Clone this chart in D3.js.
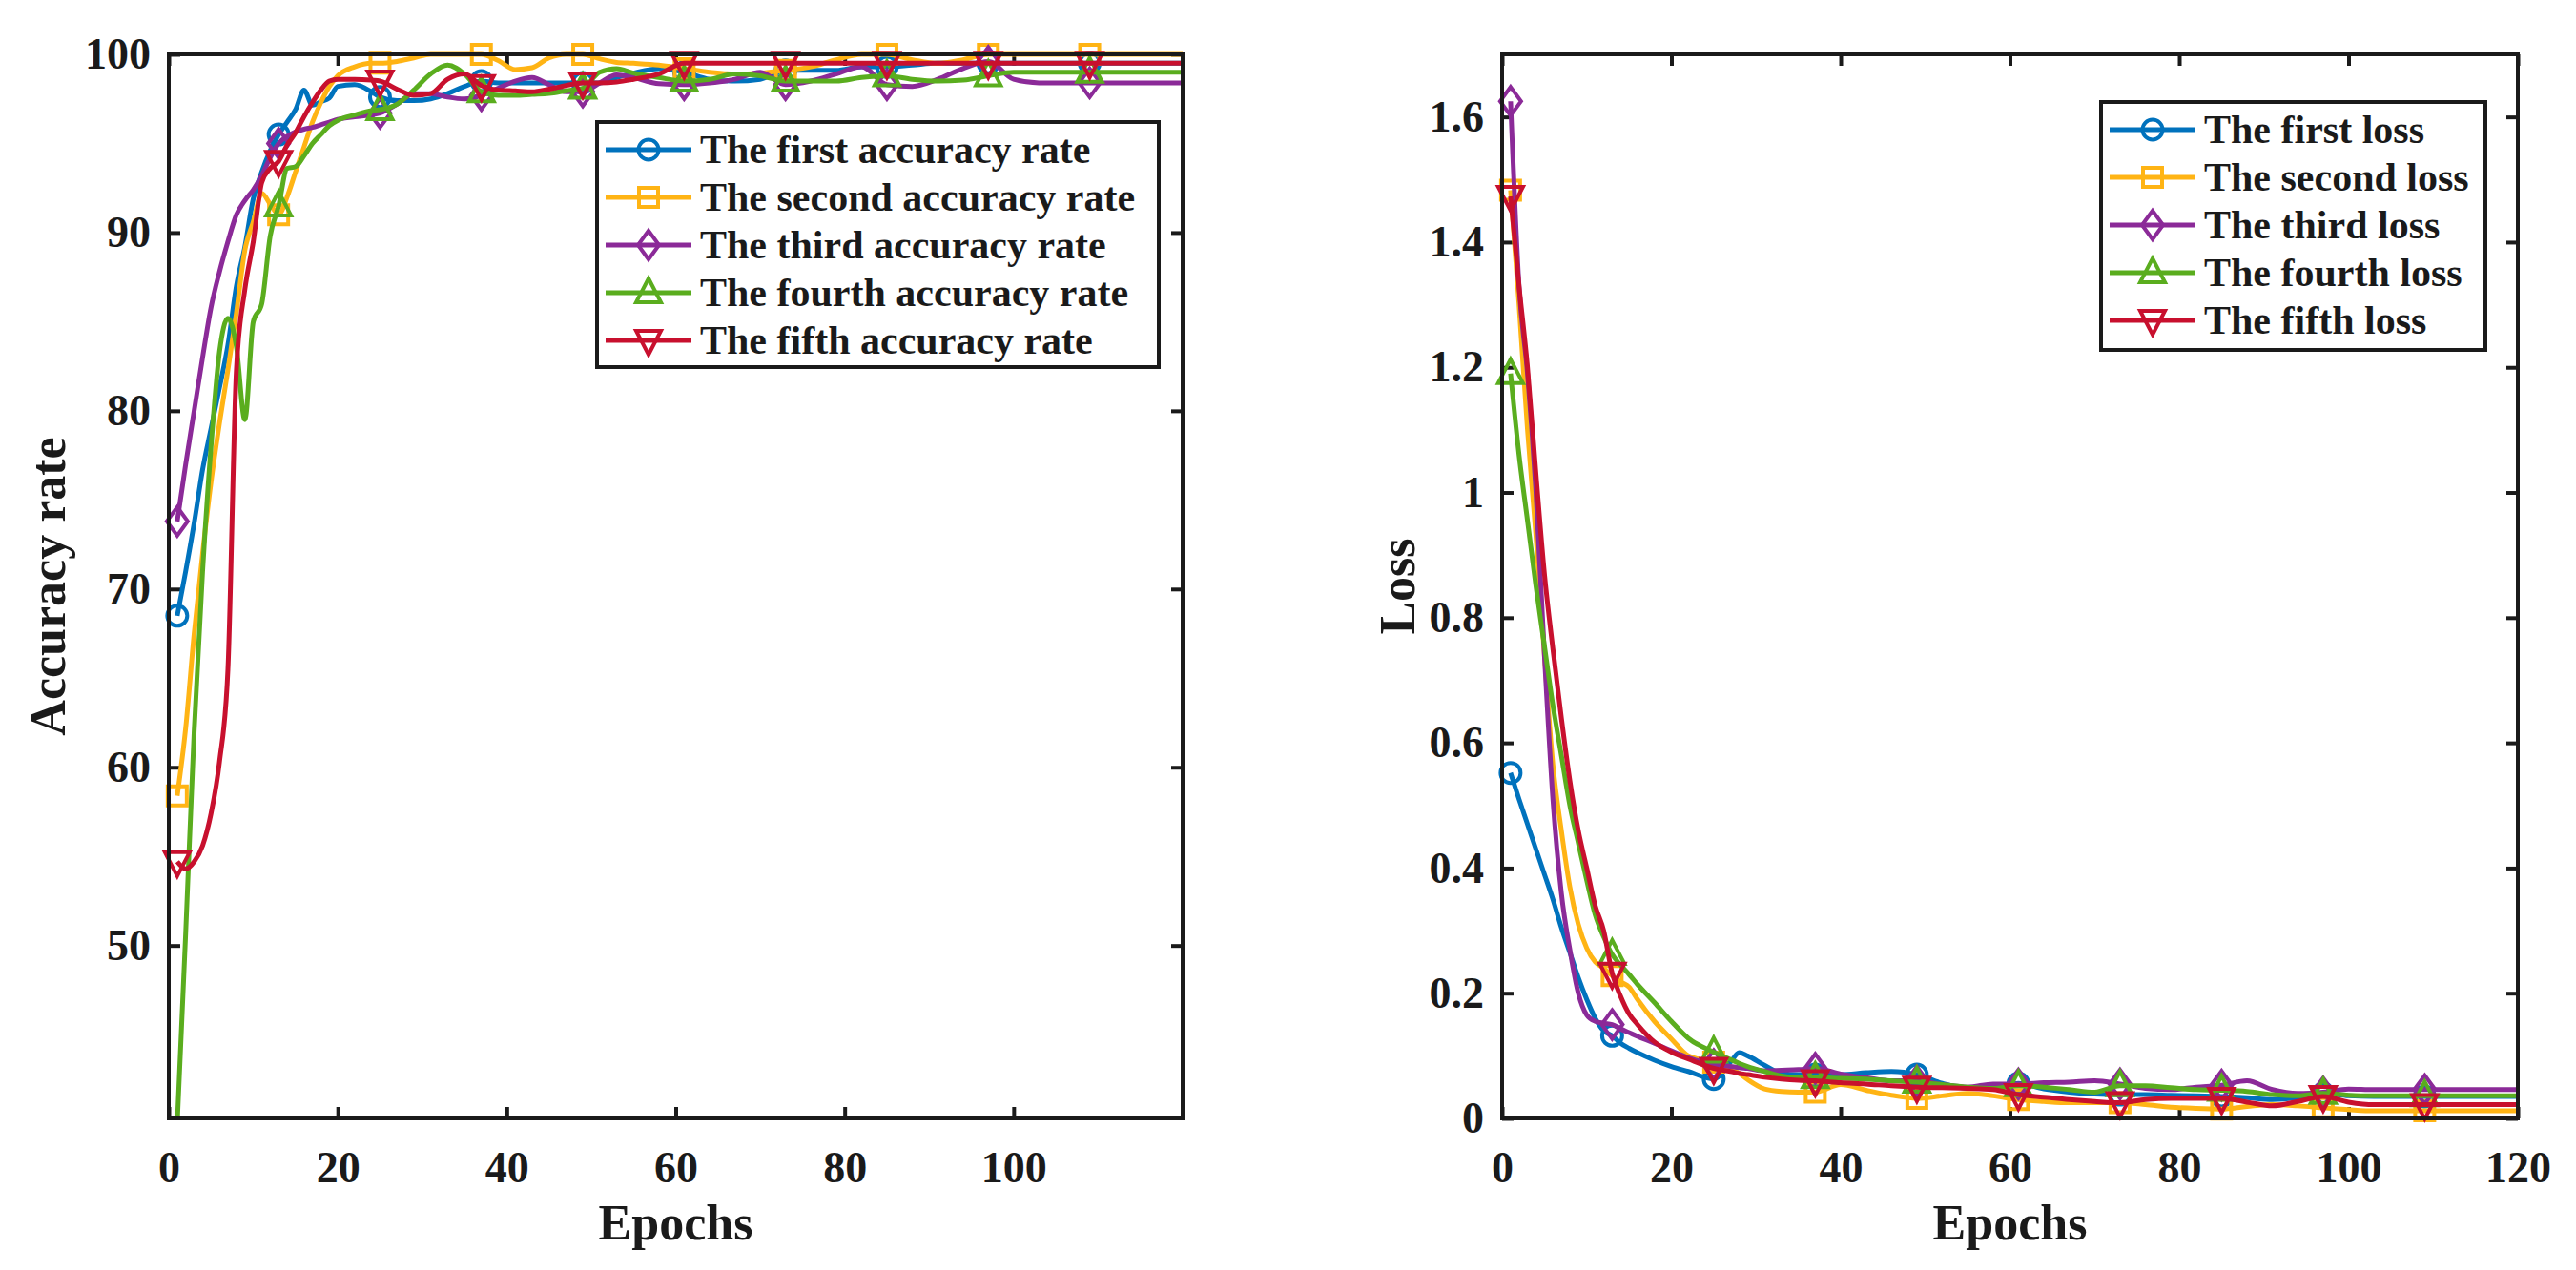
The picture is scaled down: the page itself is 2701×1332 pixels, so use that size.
<!DOCTYPE html>
<html>
<head>
<meta charset="utf-8">
<title>Accuracy and loss</title>
<script src="https://cdn.jsdelivr.net/npm/d3@7"></script>
<style>
  body { margin: 0; background: #fff; }
  svg text { font-family: "Liberation Serif", "Times New Roman", serif; font-weight: bold; fill: #1a1a1a; }
</style>
</head>
<body>
<svg id="chart" width="2701" height="1332"></svg>
<script>
// ---- data ----
var accEpochs = [1,2,3,4,5,6,7,8,9,10,11,12,13,14,15,16,17,18,19,20,
  22,24,25,27,29,31,33,35,37,39,41,43,45,47,49,51,53,55,58,61,
  64,67,70,73,76,79,82,85,88,91,94,97,100,103,106,109,112,115,118,120];

var acc1 = [68.5,71.0,73.7,76.7,79.0,81.3,83.7,87.0,89.2,91.9,
  93.4,94.6,95.5,96.2,96.9,98.0,97.15,97.35,97.55,98.2,
  98.3,97.9,97.6,97.4,97.4,97.5,97.8,98.2,98.5,98.4,
  98.4,98.4,98.4,98.4,98.4,98.4,98.7,98.95,99.2,99.0,
  98.6,98.5,98.6,99.1,99.1,99.1,99.3,99.3,99.4,99.5,
  99.5,99.5,99.5,99.5,99.5,99.5,99.5,99.5,99.5,99.5];
var acc2 = [58.4,62.2,67.5,72.0,76.0,79.3,82.3,85.5,89.0,90.6,
  92.2,91.6,91.0,92.0,93.4,94.8,96.2,97.3,98.2,98.8,
  99.3,99.5,99.5,99.6,99.8,100,100,100,100,99.65,
  99.15,99.25,99.8,100,100,99.75,99.55,99.5,99.4,99.2,
  99.0,98.9,98.95,99.1,99.3,99.7,100,100,99.7,99.5,
  99.7,100,100,100,100,100,100,100,100,100];
var acc3 = [73.8,77.0,80.0,83.0,85.8,87.8,89.5,91.0,91.8,92.4,
  93.2,94.2,95.0,95.4,95.65,95.8,95.9,96.05,96.2,96.35,
  96.5,96.6,96.7,97.2,97.8,97.8,97.6,97.5,97.7,98.1,
  98.5,98.7,98.3,97.9,97.9,98.4,98.85,98.7,98.35,98.3,
  98.4,98.6,99.0,98.3,98.5,98.9,99.3,98.3,98.2,98.6,
  99.2,99.6,98.6,98.4,98.4,98.4,98.4,98.4,98.4,98.4];
var acc4 = [40.0,50.7,62.0,71.0,78.0,83.3,85.2,83.6,79.5,85.0,
  86.0,89.8,91.5,93.6,93.7,94.3,95.0,95.5,96.0,96.3,
  96.6,96.85,96.9,97.2,98.0,98.9,99.4,98.9,97.9,97.7,
  97.7,97.75,97.8,97.95,98.1,99.0,99.2,98.95,98.7,98.5,
  98.6,98.9,98.8,98.5,98.5,98.5,98.7,98.8,98.6,98.5,
  98.55,98.8,99.0,99.0,99.0,99.0,99.0,99.0,99.0,99.0];
var acc5 = [54.7,54.3,54.7,55.6,57.4,60.3,65.5,82.3,86.8,89.5,
  92.8,93.6,94.0,94.9,95.6,96.5,97.3,98.0,98.5,98.6,
  98.6,98.55,98.5,98.05,97.7,97.8,98.6,98.9,98.25,98.0,
  97.95,97.9,98.05,98.25,98.4,98.4,98.45,98.6,98.9,99.5,
  99.5,99.5,99.5,99.5,99.5,99.5,99.5,99.5,99.5,99.5,
  99.5,99.5,99.5,99.5,99.5,99.5,99.5,99.5,99.5,99.5];

var lossEpochs = [1,2,3,4,5,6,7,8,9,10,11,12,13,14,15,16,
  18,20,22,25,27,28,29,31,33,35,
  37,40,43,46,49,52,55,58,61,64,
  67,70,73,76,79,82,85,88,91,94,
  97,100,103,106,109,112,115,118,120];

var loss1 = [0.552,0.51,0.47,0.43,0.39,0.35,0.305,0.265,0.225,0.19,0.16,0.14,0.132,0.12,0.112,0.105,
  0.093,0.083,0.075,0.063,0.09,0.105,0.1,0.085,0.072,0.07,
  0.07,0.07,0.073,0.075,0.07,0.056,0.048,0.05,0.056,0.047,
  0.042,0.039,0.038,0.038,0.037,0.036,0.035,0.033,0.03,0.033,
  0.04,0.036,0.035,0.035,0.035,0.035,0.035,0.035,0.035];
var loss2 = [1.483,1.30,1.10,0.93,0.74,0.565,0.46,0.37,0.31,0.272,0.25,0.24,0.228,0.218,0.21,0.19,
  0.155,0.127,0.1,0.09,0.08,0.072,0.062,0.047,0.043,0.042,
  0.042,0.054,0.045,0.037,0.032,0.036,0.04,0.036,0.03,0.027,
  0.025,0.025,0.025,0.022,0.018,0.016,0.015,0.019,0.022,0.02,
  0.017,0.014,0.012,0.012,0.012,0.012,0.012,0.012,0.012];
var loss3 = [1.625,1.33,1.19,1.0,0.74,0.51,0.36,0.27,0.2,0.165,0.155,0.152,0.15,0.143,0.137,0.131,
  0.12,0.108,0.097,0.086,0.083,0.081,0.08,0.076,0.077,0.078,
  0.08,0.071,0.065,0.06,0.06,0.054,0.05,0.055,0.055,0.057,
  0.058,0.06,0.055,0.048,0.046,0.05,0.053,0.06,0.046,0.04,
  0.042,0.047,0.046,0.046,0.046,0.046,0.046,0.046,0.046];
var loss4 = [1.19,1.06,0.955,0.85,0.755,0.66,0.58,0.5,0.44,0.38,0.325,0.29,0.262,0.245,0.23,0.214,
  0.185,0.155,0.128,0.106,0.094,0.088,0.083,0.075,0.068,0.065,
  0.065,0.064,0.063,0.06,0.058,0.054,0.05,0.048,0.052,0.05,
  0.046,0.042,0.052,0.052,0.049,0.046,0.045,0.043,0.038,0.036,
  0.04,0.037,0.036,0.036,0.036,0.036,0.036,0.036,0.036];
var loss5 = [1.473,1.33,1.2,1.03,0.87,0.75,0.64,0.54,0.46,0.4,0.34,0.3,0.232,0.195,0.167,0.15,
  0.122,0.106,0.095,0.08,0.075,0.072,0.07,0.066,0.063,0.061,
  0.06,0.057,0.055,0.052,0.05,0.049,0.048,0.046,0.038,0.034,
  0.03,0.027,0.025,0.03,0.032,0.032,0.032,0.026,0.02,0.027,
  0.035,0.026,0.022,0.022,0.022,0.022,0.022,0.022,0.022];

var markerEpochs = [1,13,25,37,49,61,73,85,97,109];
var accNames = ['The first accuracy rate','The second accuracy rate','The third accuracy rate',
  'The fourth accuracy rate','The fifth accuracy rate'];
var lossNames = ['The first loss','The second loss','The third loss','The fourth loss','The fifth loss'];
var colors = ['#0072bd','#ffb414','#8b2a98','#5aad1e','#c8102e'];
var shapes = ['circle','square','diamond','up','down'];
var accTicksX = [0,20,40,60,80,100];
var accTicksY = [50,60,70,80,90,100];
var accRange = [40.3, 100];
var lossTicksX = [0,20,40,60,80,100,120];
var lossTicksY = [0,0.2,0.4,0.6,0.8,1,1.2,1.4,1.6];
var lossRange = [0, 1.7];

// ---- drawing ----
var svg = d3.select('#chart');
svg.append('rect').attr('width', 2701).attr('height', 1332).attr('fill', '#fff');

function markerPath(shape) {
  if (shape == 'circle') return d3.symbol(d3.symbolCircle, Math.PI * 10.5 * 10.5)();
  if (shape == 'square') return 'M-10,-10H10V10H-10Z';
  if (shape == 'diamond') return 'M0,-15L11,0L0,15L-11,0Z';
  if (shape == 'up') return 'M0,-15L13,10L-13,10Z';
  return 'M0,15L13,-10L-13,-10Z';
}

var clipId = 0;
function panel(opt) {
  var x = d3.scaleLinear().domain(opt.xDomain).range([opt.left, opt.right]);
  var y = d3.scaleLinear().domain(opt.yDomain).range([opt.bottom, opt.top]);
  var g = svg.append('g');

  var cid = 'clip' + (clipId++);
  g.append('clipPath').attr('id', cid).append('rect')
    .attr('x', opt.left).attr('y', opt.top - 10)
    .attr('width', opt.right - opt.left).attr('height', opt.bottom - opt.top + 10);

  // ticks on all four sides, pointing inward
  var bx = g.append('g').attr('transform', 'translate(0,' + opt.bottom + ')')
    .call(d3.axisBottom(x).tickValues(opt.xTicks).tickSize(-12).tickPadding(34));
  var tx = g.append('g').attr('transform', 'translate(0,' + opt.top + ')')
    .call(d3.axisTop(x).tickValues(opt.xTicks).tickSize(-12).tickFormat(''));
  var ly = g.append('g').attr('transform', 'translate(' + opt.left + ',0)')
    .call(d3.axisLeft(y).tickValues(opt.yTicks).tickSize(-12).tickPadding(19).tickFormat(opt.yFormat));
  var ry = g.append('g').attr('transform', 'translate(' + opt.right + ',0)')
    .call(d3.axisRight(y).tickValues(opt.yTicks).tickSize(-12).tickFormat(''));
  [bx, tx, ly, ry].forEach(function(a) {
    a.select('.domain').remove();
    a.selectAll('line').attr('stroke', '#1a1a1a').attr('stroke-width', 4);
    a.selectAll('text').attr('font-size', 46).style('fill', '#1a1a1a');
  });

  var line = d3.line()
    .x(function(d) { return x(d[0]); })
    .y(function(d) { return y(d[1]); })
    .curve(d3.curveMonotoneX);

  opt.series.forEach(function(vals, i) {
    var pts = opt.epochs.map(function(e, j) { return [e, vals[j]]; });
    var s = g.append('g');
    s.append('path').datum(pts)
      .attr('clip-path', 'url(#' + cid + ')')
      .attr('d', line).attr('fill', 'none')
      .attr('stroke', colors[i]).attr('stroke-width', 5).attr('stroke-linejoin', 'round');
    s.selectAll('path.mk')
      .data(pts.filter(function(d) {
        return markerEpochs.indexOf(d[0]) >= 0 && d[1] >= opt.yDomain[0] && d[1] <= opt.yDomain[1];
      }))
      .enter().append('path').attr('class', 'mk')
      .attr('d', markerPath(shapes[i]))
      .attr('transform', function(d) { return 'translate(' + x(d[0]) + ',' + y(d[1]) + ')'; })
      .attr('fill', 'none').attr('stroke', colors[i]).attr('stroke-width', 4);
  });

  // box
  g.append('rect')
    .attr('x', opt.left).attr('y', opt.top)
    .attr('width', opt.right - opt.left).attr('height', opt.bottom - opt.top)
    .attr('fill', 'none').attr('stroke', '#1a1a1a').attr('stroke-width', 4);

  // axis titles
  g.append('text')
    .attr('x', (opt.left + opt.right) / 2).attr('y', 1300)
    .attr('text-anchor', 'middle').attr('font-size', 52).text('Epochs');
  g.append('text')
    .attr('transform', 'translate(' + opt.yLabelX + ',' + (opt.top + opt.bottom) / 2 + ') rotate(-90)')
    .attr('text-anchor', 'middle').attr('font-size', 52).text(opt.yLabel);

  // legend
  var L = opt.legend;
  var lg = g.append('g');
  lg.append('rect')
    .attr('x', L.x).attr('y', L.y).attr('width', L.w).attr('height', L.h)
    .attr('fill', '#fff').attr('stroke', '#1a1a1a').attr('stroke-width', 4);
  opt.names.forEach(function(name, i) {
    var cy = L.y + 29 + i * 50;
    lg.append('line')
      .attr('x1', L.x + 9).attr('x2', L.x + 99).attr('y1', cy).attr('y2', cy)
      .attr('stroke', colors[i]).attr('stroke-width', 5);
    lg.append('path')
      .attr('d', markerPath(shapes[i]))
      .attr('transform', 'translate(' + (L.x + 54) + ',' + cy + ')')
      .attr('fill', 'none').attr('stroke', colors[i]).attr('stroke-width', 4);
    lg.append('text')
      .attr('x', L.x + 108).attr('y', cy + 14)
      .attr('font-size', 42).text(name);
  });
}

panel({
  left: 177, right: 1240, top: 57, bottom: 1173,
  xDomain: [0, 120], yDomain: accRange,
  xTicks: accTicksX, yTicks: accTicksY,
  yFormat: d3.format('d'),
  epochs: accEpochs, series: [acc1, acc2, acc3, acc4, acc5],
  names: accNames, yLabel: 'Accuracy rate', yLabelX: 68,
  legend: { x: 626, y: 128, w: 589, h: 257 }
});

panel({
  left: 1575, right: 2640, top: 57, bottom: 1173,
  xDomain: [0, 120], yDomain: lossRange,
  xTicks: lossTicksX, yTicks: lossTicksY,
  yFormat: function(d) { return String(+d.toFixed(1)); },
  epochs: lossEpochs, series: [loss1, loss2, loss3, loss4, loss5],
  names: lossNames, yLabel: 'Loss', yLabelX: 1483,
  legend: { x: 2203, y: 107, w: 403, h: 260 }
});
</script>
</body>
</html>
